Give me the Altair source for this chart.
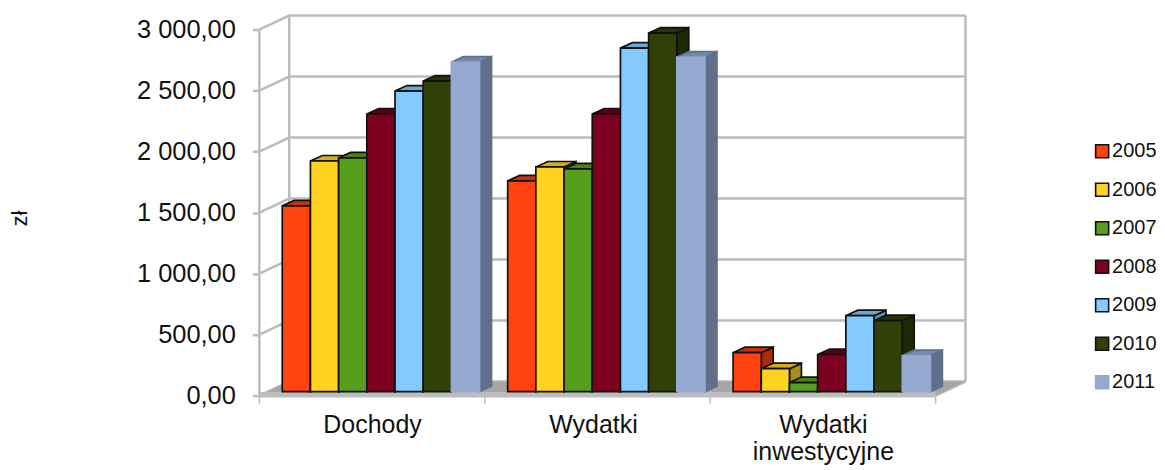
import altair as alt
import pandas as pd

categories = ["Dochody", "Wydatki", "Wydatki inwestycyjne"]
years = ["2005", "2006", "2007", "2008", "2009", "2010", "2011"]
dochody = [1522, 1890, 1915, 2275, 2463, 2545, 2700]
wydatki = [1727, 1841, 1825, 2275, 2815, 2938, 2741]
inwestycyjne = [319, 188, 74, 303, 622, 581, 295]
series = [dochody, wydatki, inwestycyjne]

front_colors = ["#ff420e", "#ffd320", "#579d1c", "#7e0021", "#83caff", "#314004", "#95a8d0"]
top_colors = ["#c4330b", "#d4ae1c", "#468116", "#5c0018", "#6ca8d6", "#283403", "#7688aa"]
side_colors = ["#a82c09", "#a98d18", "#3a6b12", "#4f0015", "#5a8cb4", "#1f2a02", "#5f6f8c"]
edge_colors = ["#111111"] * 6 + ["#95a8d0"]
edge_sides = ["#111111"] * 6 + ["#5f6f8c"]

y_ticks = [0, 500, 1000, 1500, 2000, 2500, 3000]
cat_ticks = [0, 1, 2, 3]
label_pos = [0.5, 1.48, 2.5]

GRID = "#bcbcbc"
UX, UY = 226.3, 0.12233          # pixels per category, pixels per zloty
WALL_X, WALL_Y = 30 / UX, 14 / UY
BAR_X, BAR_Y = 12 / UX, 5.5 / UY
BASE = 4 / UY
START = 0.1016
BAR_W = 28.3 / UX
XMAX = 3 + WALL_X
YMAX = 3000 + WALL_Y

fronts, sides, tops = [], [], []
for g, vals in enumerate(series):
    for s, v in enumerate(vals):
        x0 = g + START + s * BAR_W
        x1 = x0 + BAR_W
        top = v + BASE
        bid = f"{g}-{s}"
        fronts.append(dict(x=x0, x2=x1, y=top, y2=BASE, year=years[s]))
        for px, a, b in [(x1, top, BASE), (x1 + BAR_X, top + BAR_Y, BASE + BAR_Y)]:
            sides.append(dict(id=bid, x=px, y=a, y2=b, f=side_colors[s], e=edge_sides[s]))
        for px, a, b in [(x0, top, top), (x0 + BAR_X, top + BAR_Y, top),
                         (x1, top + BAR_Y, top), (x1 + BAR_X, top + BAR_Y, top + BAR_Y)]:
            tops.append(dict(id=bid, x=px, y=a, y2=b, f=top_colors[s], e=edge_sides[s]))

lines = []
for v in y_ticks:
    for px, py in [(0, v), (WALL_X, v + WALL_Y), (XMAX, v + WALL_Y)]:
        lines.append(dict(id=f"g{v}", x=px, y=py))
for i, (px, a, b) in enumerate([(0, 0, 3000), (WALL_X, WALL_Y, YMAX), (XMAX, WALL_Y, YMAX)]):
    lines += [dict(id=f"v{i}", x=px, y=a), dict(id=f"v{i}", x=px, y=b)]
lines += [dict(id="r", x=3, y=0), dict(id="r", x=XMAX, y=WALL_Y)]

floor = [dict(x=0, y=0, y2=0), dict(x=WALL_X, y=WALL_Y, y2=0),
         dict(x=3, y=WALL_Y, y2=0), dict(x=XMAX, y=WALL_Y, y2=WALL_Y)]
strip = [dict(x=0, x2=3, y=3.5 / UY, y2=-2 / UY)]
ticks = [dict(x=t, y=0, y2=-8 / UY) for t in cat_ticks]

xs = alt.Scale(domain=[0, XMAX], nice=False, zero=False)
ys = alt.Scale(domain=[0, YMAX], nice=False, zero=False)
xaxis = alt.Axis(
    values=label_pos, title=None, domain=False, ticks=False, grid=False,
    labelExpr="datum.value < 1 ? 'Dochody' : datum.value < 2 ? 'Wydatki' : ['Wydatki', 'inwestycyjne']",
    labelFontSize=25, labelFont="Liberation Sans", labelColor="#111111",
    labelPadding=17, labelLineHeight=27, labelOverlap=False, labelFlush=False,
)
yaxis = alt.Axis(
    values=y_ticks, title="zł", domain=False, grid=False,
    labelExpr="replace(replace(format(datum.value, ',.2f'), ',', ' '), '.', ',')",
    labelFontSize=25.5, labelFont="Liberation Sans", labelColor="#111111", labelPadding=17,
    tickColor=GRID, tickWidth=2.5, tickSize=7,
    titleFont="Liberation Sans", titleFontSize=22, titleFontWeight="normal", titleColor="#111111",
    titlePadding=105, titleY=203,
)
X = alt.X("x:Q", scale=xs, axis=xaxis)
Y = alt.Y("y:Q", scale=ys, axis=yaxis)
X2 = alt.X2("x2:Q")
Y2 = alt.Y2("y2:Q")

floor_l = alt.Chart(pd.DataFrame(floor)).mark_area(color="#a6a6a6", opacity=1).encode(x=X, y=Y, y2=Y2)
strip_l = alt.Chart(pd.DataFrame(strip)).mark_rect(color="#bdbdbd").encode(x=X, x2=X2, y=Y, y2=Y2)
grid_l = alt.Chart(pd.DataFrame(lines)).mark_line(color=GRID, strokeWidth=2.5, clip=False).encode(
    x=X, y=Y, detail="id:N", order=alt.Order("x:Q"))
tick_l = alt.Chart(pd.DataFrame(ticks)).mark_rule(color=GRID, strokeWidth=1.5, clip=False).encode(x=X, y=Y, y2=Y2)


def faces(rows):
    return alt.Chart(pd.DataFrame(rows)).mark_area(opacity=1, strokeWidth=1.7, clip=False).encode(
        x=X, y=Y, y2=Y2, detail="id:N",
        fill=alt.Fill("f:N", scale=None), stroke=alt.Stroke("e:N", scale=None),
    )


legend = alt.Legend(
    title=None, orient="none", legendX=835, legendY=126, symbolType="square", symbolSize=170,
    symbolStrokeWidth=1.6, symbolOpacity=1, labelFontSize=20, labelFont="Liberation Sans",
    labelColor="#111111", labelOffset=0, rowPadding=18.6, padding=0,
)
front_l = alt.Chart(pd.DataFrame(fronts)).mark_rect(strokeWidth=1.7, opacity=1).encode(
    x=X, x2=X2, y=Y, y2=Y2,
    fill=alt.Fill("year:N", scale=alt.Scale(domain=years, range=front_colors), legend=legend),
    stroke=alt.Stroke("year:N", scale=alt.Scale(domain=years, range=edge_colors), legend=legend),
)

chart = alt.layer(grid_l, floor_l, strip_l, tick_l, faces(sides), faces(tops), front_l).properties(
    width=708, height=381,
    padding={"left": 0, "top": 2, "right": 0, "bottom": 0},
).configure_view(stroke=None)

chart.save("out.html", embed_options={"renderer": "svg", "actions": False})
